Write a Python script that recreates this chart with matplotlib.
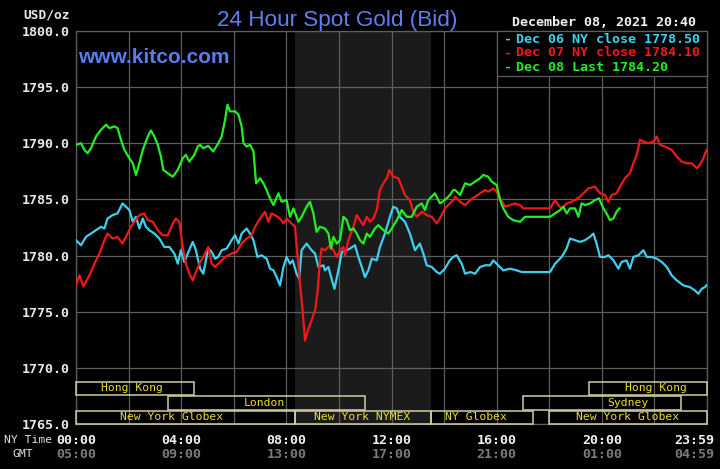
import matplotlib
matplotlib.use('Agg')
import matplotlib.pyplot as plt
import matplotlib.transforms as mtransforms
from matplotlib.patches import Rectangle

# ---------------- data (hours in NY time, price USD/oz) ----------------
dec08_hours = [
    0.00, 0.19, 0.32, 0.44, 0.57, 0.76, 0.95, 1.14,
    1.27, 1.46, 1.58, 1.71, 1.84, 2.03, 2.16, 2.28,
    2.41, 2.54, 2.73, 2.85, 2.98, 3.11, 3.23, 3.32,
    3.49, 3.68, 3.87, 4.06, 4.18, 4.31, 4.50, 4.63,
    4.72, 4.84, 5.03, 5.22, 5.41, 5.54, 5.67, 5.76,
    5.86, 6.05, 6.18, 6.30, 6.37, 6.49, 6.62, 6.75,
    6.85, 7.00, 7.13, 7.25, 7.38, 7.51, 7.70, 7.82,
    8.01, 8.14, 8.27, 8.46, 8.58, 8.77, 8.90, 9.03,
    9.15, 9.28, 9.47, 9.60, 9.70, 9.79, 9.92, 10.04,
    10.17, 10.30, 10.42, 10.55, 10.68, 10.80, 10.93, 11.06,
    11.18, 11.37, 11.50, 11.69, 11.88, 12.01, 12.20, 12.39,
    12.58, 12.77, 12.96, 13.15, 13.27, 13.40, 13.65, 13.84,
    14.03, 14.22, 14.35, 14.42, 14.61, 14.80, 14.99, 15.18,
    15.37, 15.49, 15.68, 15.81, 16.00, 16.13, 16.25, 16.44,
    16.63, 16.89, 17.08, 17.27, 17.65, 18.03, 18.22, 18.41,
    18.54, 18.66, 18.79, 18.98, 19.11, 19.23, 19.36, 19.55,
    19.74, 19.89, 20.06, 20.18, 20.31, 20.44, 20.56, 20.67,
]
dec08_prices = [
    1789.85, 1790.00, 1789.40, 1789.11, 1789.55, 1790.59, 1791.19, 1791.64,
    1791.34, 1791.49, 1791.34, 1790.30, 1789.40, 1788.66, 1788.21, 1787.17,
    1788.21, 1789.40, 1790.59, 1791.13, 1790.59, 1789.85, 1788.81, 1787.62,
    1787.32, 1787.02, 1787.62, 1788.66, 1788.96, 1788.36, 1788.96, 1789.70,
    1789.85, 1789.55, 1789.76, 1789.26, 1790.00, 1790.59, 1792.08, 1793.42,
    1792.83, 1792.83, 1792.53, 1791.49, 1790.00, 1789.70, 1789.85, 1789.26,
    1786.43, 1786.88, 1786.43, 1785.83, 1785.09, 1784.49, 1785.54, 1784.79,
    1784.94, 1783.45, 1784.20, 1783.01, 1783.45, 1784.35, 1784.79, 1783.75,
    1782.11, 1782.56, 1782.41, 1781.96, 1780.63, 1781.67, 1781.07, 1781.37,
    1783.45, 1783.15, 1782.26, 1782.41, 1781.96, 1781.37, 1781.07, 1781.96,
    1781.67, 1782.41, 1782.71, 1782.26, 1781.96, 1782.41, 1783.15, 1784.05,
    1783.45, 1783.45, 1784.35, 1784.64, 1784.05, 1784.94, 1785.54, 1784.64,
    1784.94, 1785.39, 1785.83, 1785.83, 1785.39, 1786.43, 1786.28, 1786.58,
    1786.88, 1787.17, 1787.02, 1786.58, 1786.28, 1784.94, 1784.20, 1783.45,
    1783.15, 1783.01, 1783.45, 1783.45, 1783.45, 1783.45, 1783.75, 1784.05,
    1784.35, 1783.75, 1784.20, 1784.20, 1783.45, 1784.64, 1784.49, 1784.64,
    1784.94, 1785.09, 1784.20, 1783.75, 1783.15, 1783.30, 1783.90, 1784.20,
]

dec06_hours = [
    0.00, 0.19, 0.38, 0.57, 0.76, 0.95, 1.08, 1.20,
    1.39, 1.58, 1.77, 1.90, 2.03, 2.16, 2.28, 2.41,
    2.54, 2.66, 2.79, 2.98, 3.17, 3.36, 3.55, 3.74,
    3.87, 3.99, 4.12, 4.25, 4.44, 4.56, 4.72, 4.84,
    5.03, 5.16, 5.29, 5.41, 5.54, 5.73, 5.92, 6.05,
    6.18, 6.30, 6.49, 6.62, 6.75, 6.90, 7.06, 7.25,
    7.38, 7.51, 7.63, 7.76, 7.89, 8.01, 8.14, 8.24,
    8.39, 8.49, 8.58, 8.77, 8.96, 9.09, 9.22, 9.41,
    9.47, 9.60, 9.72, 9.83, 9.98, 10.11, 10.30, 10.42,
    10.61, 10.74, 10.87, 10.99, 11.12, 11.25, 11.44, 11.56,
    11.75, 11.94, 12.07, 12.20, 12.32, 12.51, 12.70, 12.89,
    13.08, 13.21, 13.34, 13.53, 13.72, 13.84, 14.03, 14.22,
    14.35, 14.48, 14.67, 14.80, 14.99, 15.18, 15.37, 15.56,
    15.75, 15.87, 16.06, 16.25, 16.51, 16.76, 16.95, 17.52,
    18.03, 18.22, 18.47, 18.66, 18.79, 18.98, 19.17, 19.36,
    19.55, 19.68, 19.80, 19.93, 20.12, 20.25, 20.44, 20.63,
    20.75, 20.94, 21.07, 21.20, 21.39, 21.58, 21.71, 21.90,
    22.09, 22.28, 22.47, 22.66, 22.85, 23.10, 23.35, 23.54,
    23.67, 23.80, 23.92, 23.98,
]
dec06_prices = [
    1781.37, 1780.92, 1781.67, 1781.96, 1782.26, 1782.56, 1782.41, 1783.30,
    1783.60, 1783.75, 1784.64, 1784.35, 1784.05, 1783.01, 1783.45, 1782.41,
    1783.30, 1782.56, 1782.26, 1781.96, 1781.52, 1780.77, 1780.77, 1780.18,
    1779.28, 1780.48, 1779.43, 1780.18, 1781.22, 1780.48, 1778.84, 1778.39,
    1780.63, 1780.33, 1779.73, 1779.88, 1780.48, 1780.63, 1781.37, 1781.81,
    1781.07, 1781.96, 1782.41, 1781.96, 1781.37, 1779.88, 1780.03, 1779.73,
    1778.84, 1778.69, 1778.09, 1777.35, 1778.99, 1779.88, 1779.28, 1779.58,
    1778.39, 1777.95, 1780.48, 1781.07, 1780.48, 1780.18, 1778.99, 1779.14,
    1778.69, 1778.99, 1777.95, 1777.05, 1778.69, 1780.33, 1780.48, 1780.63,
    1780.92, 1779.88, 1778.99, 1778.09, 1778.69, 1779.73, 1779.58, 1780.77,
    1781.96, 1783.45, 1784.35, 1784.20, 1783.45, 1783.01, 1781.96, 1780.48,
    1781.07, 1780.18, 1779.14, 1778.99, 1778.54, 1778.39, 1778.84, 1779.58,
    1779.88, 1780.03, 1779.28, 1778.39, 1778.54, 1778.39, 1778.99, 1779.14,
    1779.14, 1779.58, 1779.14, 1778.69, 1778.84, 1778.69, 1778.54, 1778.54,
    1778.54, 1779.28, 1779.88, 1780.63, 1781.52, 1781.37, 1781.22, 1781.37,
    1781.67, 1781.96, 1781.07, 1779.88, 1779.88, 1780.03, 1779.58, 1778.84,
    1779.43, 1779.58, 1778.84, 1779.88, 1780.03, 1780.48, 1779.88, 1779.88,
    1779.73, 1779.43, 1778.99, 1778.24, 1777.80, 1777.35, 1777.20, 1776.90,
    1776.61, 1777.05, 1777.20, 1777.35,
]

dec07_hours = [
    0.00, 0.13, 0.28, 0.51, 0.70, 0.89, 1.08, 1.20,
    1.39, 1.58, 1.77, 1.96, 2.09, 2.22, 2.41, 2.60,
    2.73, 2.92, 3.11, 3.30, 3.49, 3.68, 3.80, 3.93,
    4.06, 4.18, 4.31, 4.44, 4.56, 4.72, 4.84, 5.03,
    5.16, 5.29, 5.48, 5.67, 5.92, 6.11, 6.30, 6.49,
    6.68, 6.81, 7.00, 7.19, 7.32, 7.44, 7.57, 7.76,
    7.89, 8.01, 8.20, 8.33, 8.42, 8.52, 8.62, 8.71,
    8.84, 8.96, 9.09, 9.18, 9.28, 9.34, 9.47, 9.66,
    9.79, 9.92, 10.04, 10.17, 10.23, 10.36, 10.55, 10.68,
    10.80, 10.93, 11.06, 11.18, 11.31, 11.44, 11.56, 11.69,
    11.82, 11.92, 12.07, 12.26, 12.39, 12.51, 12.70, 12.83,
    12.96, 13.15, 13.34, 13.53, 13.72, 13.84, 14.03, 14.22,
    14.35, 14.42, 14.61, 14.80, 14.99, 15.18, 15.37, 15.56,
    15.68, 15.87, 16.00, 16.13, 16.32, 16.51, 16.70, 16.89,
    17.01, 17.40, 18.03, 18.22, 18.35, 18.47, 18.66, 18.85,
    18.98, 19.17, 19.30, 19.49, 19.74, 19.93, 20.12, 20.25,
    20.37, 20.56, 20.69, 20.88, 21.07, 21.20, 21.33, 21.45,
    21.58, 21.77, 21.96, 22.09, 22.21, 22.40, 22.66, 22.85,
    23.04, 23.23, 23.42, 23.61, 23.73, 23.86, 23.98,
]
dec07_prices = [
    1777.35, 1778.24, 1777.26, 1778.24, 1779.28, 1780.18, 1781.37, 1781.96,
    1781.52, 1781.67, 1781.07, 1781.96, 1782.56, 1783.01, 1783.60, 1783.75,
    1783.15, 1783.01, 1782.26, 1781.81, 1781.81, 1782.86, 1783.30, 1783.01,
    1780.77, 1779.28, 1778.39, 1777.80, 1778.54, 1779.43, 1779.88, 1780.77,
    1779.28, 1778.99, 1779.43, 1779.88, 1780.18, 1780.33, 1781.07, 1781.52,
    1781.81, 1782.56, 1783.30, 1783.90, 1783.01, 1783.75, 1783.60, 1783.30,
    1782.86, 1783.30, 1782.86, 1782.56, 1780.18, 1777.50, 1775.12, 1772.44,
    1773.48, 1774.23, 1775.12, 1776.61, 1779.58, 1780.63, 1780.48, 1780.92,
    1780.48, 1779.88, 1780.48, 1780.77, 1780.03, 1781.37, 1782.56, 1783.60,
    1783.15, 1782.71, 1783.45, 1783.01, 1783.30, 1784.05, 1785.83, 1786.43,
    1786.88, 1787.62, 1787.02, 1786.88, 1786.13, 1785.39, 1784.94, 1783.90,
    1783.45, 1783.90, 1783.60, 1783.45, 1782.86, 1783.30, 1784.20, 1784.64,
    1784.94, 1785.24, 1784.79, 1784.49, 1784.94, 1785.24, 1785.54, 1785.83,
    1785.68, 1785.98, 1785.68, 1785.09, 1784.35, 1784.49, 1784.64, 1784.49,
    1784.20, 1784.20, 1784.20, 1784.94, 1784.49, 1784.20, 1784.64, 1784.79,
    1784.94, 1785.24, 1785.54, 1785.98, 1786.13, 1785.54, 1785.39, 1784.79,
    1785.39, 1785.54, 1786.13, 1786.88, 1787.32, 1788.21, 1788.96, 1790.30,
    1790.15, 1790.00, 1790.15, 1790.59, 1789.85, 1789.70, 1789.40, 1788.81,
    1788.36, 1788.21, 1788.21, 1787.77, 1788.07, 1788.66, 1789.40,
]

legend_labels = ['Dec 06 NY close 1778.50', 'Dec 07 NY close 1784.10', 'Dec 08 Last 1784.20']

y_ticks = [1765, 1770, 1775, 1780, 1785, 1790, 1795, 1800]
ny_tick_hours = [0, 4, 8, 12, 16, 20, 23.983]
ny_tick_labels = ['00:00', '04:00', '08:00', '12:00', '16:00', '20:00', '23:59']
gmt_tick_labels = ['05:00', '09:00', '13:00', '17:00', '21:00', '01:00', '04:59']

nymex_band = (8.33, 13.5)

session_names = ['Hong Kong', 'London', 'New York Globex', 'New York NYMEX',
                 'NY Globex', 'Sydney', 'New York Globex', 'Hong Kong']
session_starts = [0.0, 3.5, 0.0, 8.33, 13.5, 17.0, 18.0, 19.5]
session_ends = [4.47, 11.0, 8.33, 13.5, 17.4, 23.0, 24.0, 24.0]
session_rows = [0, 1, 2, 2, 2, 1, 2, 0]
session_label_at = [2.12, 7.16, 3.64, 10.9, 15.2, 20.98, 20.99, 22.06]

# ---------------- styling ----------------
BG = '#000000'
GRID = '#5e5e5e'
CYAN = '#3cd0ee'
RED = '#f01818'
GREEN = '#22ee22'
MONO = 'DejaVu Sans Mono'
W, H = 720, 469


def fx(px):
    return px / W


def fy(py):
    return 1 - py / H


fig = plt.figure(figsize=(7.2, 4.69), dpi=100, facecolor=BG)
ax = fig.add_axes([fx(76), fy(424.3), 631 / W, (424.3 - 30.7) / H])
ax.set_facecolor(BG)
ax.set_xlim(0, 24)
ax.set_ylim(1765, 1800)

ax.axvspan(nymex_band[0], nymex_band[1], color='#1b1b1b', zorder=0, lw=0)

ax.set_xticks(range(0, 25, 2))
ax.set_xticklabels([])
ax.set_yticks(y_ticks)
ax.set_yticklabels([f'{v:.1f}' for v in y_ticks], fontfamily=MONO,
                   fontweight='bold', fontsize=9.6, color='#e8e8e8')
ax.tick_params(length=0, pad=4.3)
ax.set_axisbelow(True)
ax.grid(True, color=GRID, lw=0.9)
for s in ax.spines.values():
    s.set_color(GRID)
    s.set_linewidth(0.9)

ax.plot(dec06_hours, dec06_prices, color=CYAN, lw=1.6, zorder=3)
ax.plot(dec07_hours, dec07_prices, color=RED, lw=1.6, zorder=3)
ax.plot(dec08_hours, dec08_prices, color=GREEN, lw=1.6, zorder=3)

# session bars
row_bottoms = [1767.62, 1766.3, 1765.02]
row_h = 1.18
for name, s, e, r, lx in zip(session_names, session_starts, session_ends,
                             session_rows, session_label_at):
    ax.add_patch(Rectangle((s, row_bottoms[r]), e - s, row_h, fill=False,
                           edgecolor='#cfcfa6', lw=1.1, zorder=4, clip_on=False))
    ax.text(lx, row_bottoms[r] + row_h / 2, name, color='#ecdc2c',
            fontfamily=MONO, fontsize=8.2, ha='center', va='center', zorder=5)

# legend box
ax.add_patch(Rectangle((16, 1796.0), 8, 4.0, facecolor=BG, edgecolor=GRID,
                       lw=0.9, zorder=6, clip_on=False))
leg_colors = [CYAN, RED, GREEN]
leg_y = [39.3, 52.9, 67.5]
for lab, c, yy in zip(legend_labels, leg_colors, leg_y):
    fig.text(fx(504), fy(yy), '-', color=c, fontfamily=MONO, fontweight='bold',
             fontsize=9.6, ha='left', va='center', zorder=7)
    fig.text(fx(516.5), fy(yy), lab, color=c, fontfamily=MONO, fontweight='bold',
             fontsize=9.6, ha='left', va='center', zorder=7)

# titles
fig.text(fx(337), fy(25.7), '24 Hour Spot Gold (Bid)', color='#6080f0',
         fontfamily='Liberation Sans', fontsize=16.2, ha='center', va='baseline')
fig.text(fx(78), fy(63.3), 'www.kitco.com', color='#5b7cf0',
         fontfamily='Liberation Sans', fontweight='bold', fontsize=15,
         ha='left', va='baseline', zorder=8)
fig.text(fx(511.5), fy(22.5), 'December 08, 2021 20:40', color='#f2f2f2',
         fontfamily=MONO, fontweight='bold', fontsize=9.6, ha='left', va='center')
fig.text(fx(70), fy(15), 'USD/oz', color='#e8e8e8', fontfamily=MONO,
         fontweight='bold', fontsize=9.3, ha='right', va='center')

# x labels (NY time + GMT)
blend = mtransforms.blended_transform_factory(ax.transData, fig.transFigure)
for h, ny, gmt in zip(ny_tick_hours, ny_tick_labels, gmt_tick_labels):
    if h > 23:
        fig.text(fx(714), fy(440), ny, color='#f0f0f0', fontfamily=MONO,
                 fontweight='bold', fontsize=9.6, ha='right', va='center')
        fig.text(fx(714), fy(454), gmt, color='#7a7a7a', fontfamily=MONO,
                 fontweight='bold', fontsize=9.6, ha='right', va='center')
    else:
        fig.text(h, fy(440), ny, color='#f0f0f0', fontfamily=MONO,
                 fontweight='bold', fontsize=9.6, ha='center', va='center',
                 transform=blend)
        fig.text(h, fy(454), gmt, color='#7a7a7a', fontfamily=MONO,
                 fontweight='bold', fontsize=9.6, ha='center', va='center',
                 transform=blend)
fig.text(fx(4), fy(440), 'NY Time', color='#e0e0e0', fontfamily=MONO,
         fontsize=8.2, ha='left', va='center')
fig.text(fx(12.7), fy(454), 'GMT', color='#e0e0e0', fontfamily=MONO,
         fontsize=8.2, ha='left', va='center')

fig.savefig('out.png', dpi=100, facecolor=BG)
